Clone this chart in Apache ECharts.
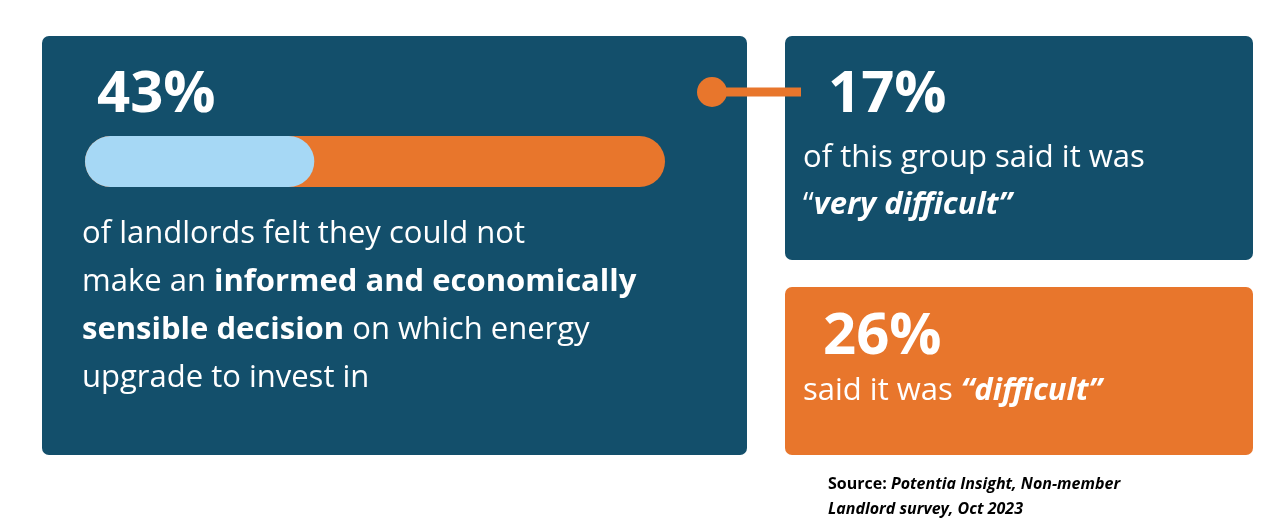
<!DOCTYPE html>
<html><head><meta charset="utf-8">
<script src="https://cdn.jsdelivr.net/npm/echarts@6/dist/echarts.min.js"></script>
<style>html,body{margin:0;padding:0;background:#fff}#c{width:1287px;height:532px}</style>
</head><body><div id="c"></div>
<script>
const total = 43;
const veryDifficult = 17;
const difficult = 26;
const labels = ['43%', '17%', '26%'];
const DARK = '#134F6B', ORANGE = '#E8762C', LIGHT = '#A6D8F5';
const F = '"Open Sans", "Noto Sans", sans-serif';
const chart = echarts.init(document.getElementById('c'));
const txt = (x, y, text, size, weight, color, extra) => Object.assign({
  type: 'text', x, y, style: { text, fontSize: size, fontWeight: weight, fill: color || '#fff', fontFamily: F, textVerticalAlign: 'middle' }
}, extra || {});
const rich = { b: { fontWeight: 'bold', fontSize: 31, fill: '#fff', fontFamily: F }, bi: { fontWeight: 'bold', fontStyle: 'italic', fontSize: 31, fill: '#fff', fontFamily: F } };
chart.setOption({
  animation: false,
  grid: { left: 85, top: 136, width: 580, height: 51 },
  xAxis: { type: 'value', min: 0, max: total, show: false },
  yAxis: { type: 'category', data: ['a'], show: false },
  graphic: [
    { type: 'rect', z: -10, shape: { x: 42, y: 36, width: 705, height: 419, r: 7 }, style: { fill: DARK } },
    { type: 'rect', z: -10, shape: { x: 785, y: 36, width: 468, height: 224, r: 7 }, style: { fill: DARK } },
    { type: 'rect', z: -10, shape: { x: 785, y: 287, width: 468, height: 168, r: 7 }, style: { fill: ORANGE } },
    { type: 'line', shape: { x1: 712, y1: 92, x2: 801, y2: 92 }, style: { stroke: ORANGE, lineWidth: 9 } },
    { type: 'circle', shape: { cx: 712, cy: 92, r: 15 }, style: { fill: ORANGE } },
    txt(97, 95, labels[0], 58, 'bold'),
    txt(828, 95, labels[1], 58, 'bold'),
    txt(823, 337, labels[2], 58, 'bold'),
    { type: 'text', x: 82, y: 210, style: { fontFamily: F, fontSize: 31, fill: '#fff', lineHeight: 48,
      text: 'of landlords felt they could not\nmake an {b|informed and economically}\n{b|sensible decision} on which energy\nupgrade to invest in', rich } },
    { type: 'text', x: 803, y: 135, style: { fontFamily: F, fontSize: 31, fill: '#fff', lineHeight: 47,
      text: 'of this group said it was\n“{bi|very difficult”}', rich } },
    { type: 'text', x: 803, y: 368, style: { fontFamily: F, fontSize: 31, fill: '#fff', lineHeight: 47,
      text: 'said it was {bi|“difficult”}', rich } },
    { type: 'text', x: 828, y: 472, style: { fontFamily: F, fontSize: 16, fill: '#000', lineHeight: 25, fontWeight: 'bold',
      text: 'Source: {i|Potentia Insight, Non-member}\n{i|Landlord survey, Oct 2023}',
      rich: { i: { fontFamily: F, fontSize: 16, fontWeight: 'bold', fontStyle: 'italic', fill: '#000' } } } }
  ],
  series: [
    { type: 'bar', data: [total], barWidth: 51, itemStyle: { color: ORANGE, borderRadius: 26 }, z: 1 },
    { type: 'bar', data: [veryDifficult], barWidth: 51, barGap: '-100%', itemStyle: { color: LIGHT, borderRadius: 26 }, z: 2 }
  ]
});
</script></body></html>
